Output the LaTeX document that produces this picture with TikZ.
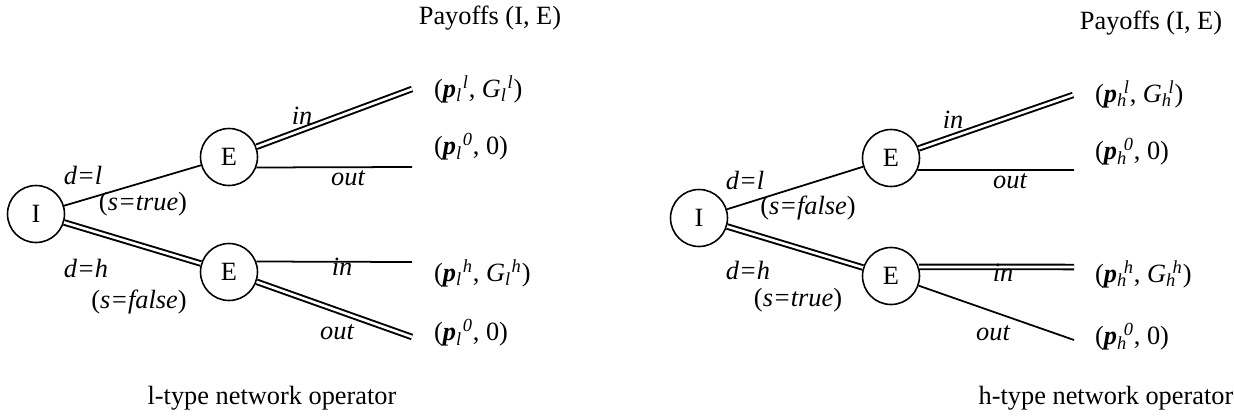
\documentclass[tikz,border=0pt]{standalone}
\usepackage{fontspec}
\setmainfont{Liberation Serif}
\usetikzlibrary{positioning}

% payoff entry: bold italic base, italic sub- and superscript
\newcommand{\pay}[3]{\textbf{\textit{#1}}\rlap{\textsubscript{\textit{#2}}}\kern0.25em\textsuperscript{\textit{#3}}}

\begin{document}
\begin{tikzpicture}[
    x=0.02cm, y=-0.02cm,
    every node/.style={font=\fontsize{15}{18}\selectfont},
    player/.style={circle, draw, line width=0.9pt, minimum size=1.14cm, inner sep=0pt},
    move/.style={draw, line width=1pt},
    chosen/.style={draw, line width=1.1pt, double, double distance=1.5pt},
    lbl/.style={font=\fontsize{15}{18}\selectfont\itshape, inner sep=1pt}
]
  \useasboundingbox (0,0) rectangle (1234,419);

  % ---- l-type operator
  \node[player] (I1) at (36,214) {I};
  \node[player] (E1) at (229,157) {E};
  \node[player] (E2) at (229,272) {E};
  \coordinate (a1) at (412,89);
  \coordinate (a2) at (412,167);
  \coordinate (a3) at (412,262);
  \coordinate (a4) at (412,337);

  \path[move] (I1) -- (E1);
  \path[chosen] (I1) -- (E2);
  \path[chosen] (E1) -- (a1);
  \path[move] (E1.-21) -- (a2);
  \path[move] (E2.21) -- (a3);
  \path[chosen] (E2) -- (a4);

  \node[lbl] at (83,175) {d=l};
  \node[lbl] at (143,204) {\upshape(\itshape s=true\upshape)};
  \node[lbl] at (86,268) {d=h};
  \node[lbl] at (139,302) {\upshape(\itshape s=false\upshape)};
  \node[lbl] at (302,116) {in};
  \node[lbl] at (348,178) {out};
  \node[lbl] at (342,267) {in};
  \node[lbl] at (337,332) {out};

  \node (P1) at (490,18) {Payoffs (I, E)};
  \node[anchor=west] (q1) at (428,89) {(\pay{p}{l}{l}, \textit{G}\rlap{\textsubscript{\textit{l}}}\kern0.25em\textsuperscript{\textit{l}})};
  \node[anchor=west] (q2) at (428,147) {(\pay{p}{l}{0}, 0)};
  \node[anchor=west] (q3) at (428,273) {(\pay{p}{l}{h}, \textit{G}\rlap{\textsubscript{\textit{l}}}\kern0.25em\textsuperscript{\textit{h}})};
  \node[anchor=west] (q4) at (428,333) {(\pay{p}{l}{0}, 0)};
  \node (T1) at (272,398) {l-type network operator};

  % ---- h-type operator
  \node[player] (I2) at (699,218) {I};
  \node[player] (E3) at (891,158) {E};
  \node[player] (E4) at (891,276) {E};
  \coordinate (b1) at (1073,95);
  \coordinate (b2) at (1074,170);
  \coordinate (b3) at (1074,267);
  \coordinate (b4) at (1074,340);

  \path[move] (I2) -- (E3);
  \path[chosen] (I2) -- (E4);
  \path[chosen] (E3) -- (b1);
  \path[move] (E3.-24) -- (b2);
  \path[chosen] (E4.18) -- (b3);
  \path[move] (E4) -- (b4);

  \node[lbl] at (745,180) {d=l};
  \node[lbl] at (808,208) {\upshape(\itshape s=false\upshape)};
  \node[lbl] at (748,270) {d=h};
  \node[lbl] at (798,300) {\upshape(\itshape s=true\upshape)};
  \node[lbl] at (953,120) {in};
  \node[lbl] at (1010,181) {out};
  \node[lbl] at (1003,273) {in};
  \node[lbl] at (993,333) {out};

  \node (P2) at (1151,23) {Payoffs (I, E)};
  \node[anchor=west] (r1) at (1089,94) {(\pay{p}{h}{l}, \textit{G}\rlap{\textsubscript{\textit{h}}}\kern0.25em\textsuperscript{\textit{l}})};
  \node[anchor=west] (r2) at (1089,152) {(\pay{p}{h}{0}, 0)};
  \node[anchor=west] (r3) at (1089,274) {(\pay{p}{h}{h}, \textit{G}\rlap{\textsubscript{\textit{h}}}\kern0.25em\textsuperscript{\textit{h}})};
  \node[anchor=west] (r4) at (1089,337) {(\pay{p}{h}{0}, 0)};
  \node (T2) at (1106,398) {h-type network operator};
\end{tikzpicture}
\end{document}
